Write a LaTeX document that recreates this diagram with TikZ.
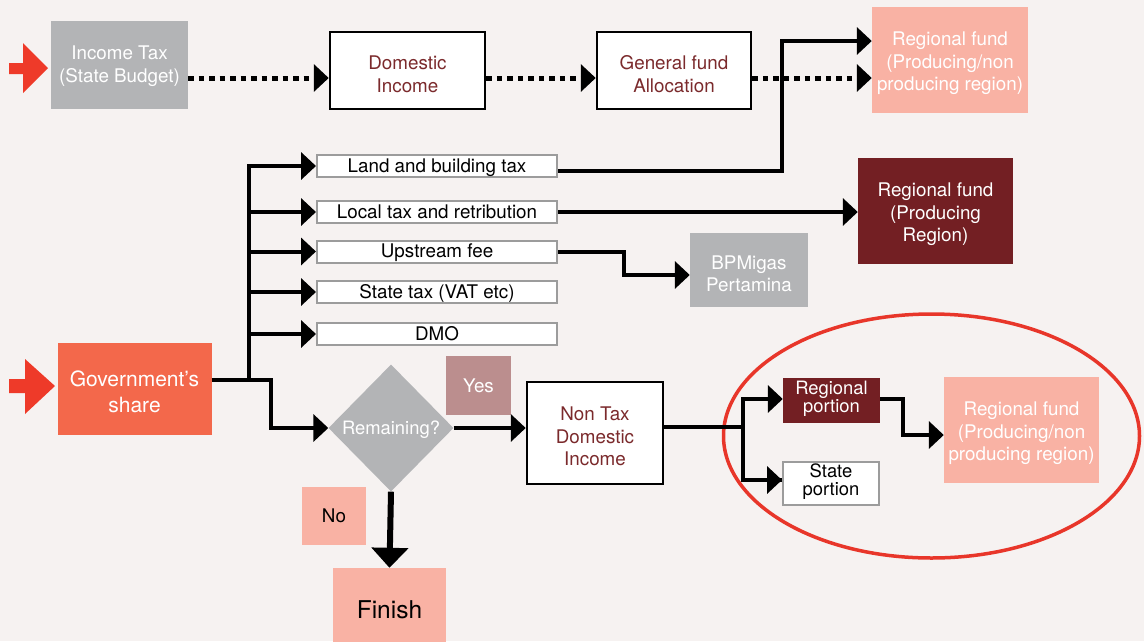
\documentclass[tikz,border=0pt]{standalone}
\usepackage{fontspec}
\setmainfont{TeX Gyre Heros}
\usetikzlibrary{arrows.meta,shapes.geometric,calc}
\definecolor{bg}{HTML}{F6F2F1}
\definecolor{gbox}{HTML}{B3B4B6}
\definecolor{salmon}{HTML}{F9B2A4}
\definecolor{orng}{HTML}{F3684B}
\definecolor{dred}{HTML}{731F23}
\definecolor{mauve}{HTML}{BB8E8E}
\definecolor{tred}{HTML}{7B2A2C}
\definecolor{rarrow}{HTML}{EE3A29}
\definecolor{gborder}{HTML}{9C9C9C}
\definecolor{ellred}{HTML}{E8362A}
\newcommand{\lowr}{\rule{0pt}{21pt}}
\begin{document}
\begin{tikzpicture}[x=1pt,y=-1pt,
  base/.style={rectangle,inner sep=0pt,align=center,font=\fontsize{18.8}{22.5}\selectfont},
  graybox/.style={base,fill=gbox,text=white},
  whitebox/.style={base,fill=white,draw=black,line width=2.5pt,text=tred},
  listbox/.style={base,fill=white,draw=gborder,line width=2pt,minimum width=240pt,minimum height=22pt,text height=14pt,text depth=2pt},
  salbox/.style={base,fill=salmon,text=white},
  redbox/.style={base,fill=dred,text=white},
  smallfont/.style={font=\fontsize{18.4}{18}\selectfont},
  conn/.style={line width=4pt,-{Triangle[length=15pt,width=27pt]}},
  plainline/.style={line width=4pt},
  dotconn/.style={line width=5pt,dash pattern=on 5.5pt off 5pt,-{Triangle[length=15pt,width=27pt]}},
]
\fill[bg] (0,0) rectangle (1144,641);
\useasboundingbox (0,0) rectangle (1144,641);

% red entry arrows
\fill[rarrow] (9,63) -- (23,63) -- (23,43) -- (48,68) -- (23,93) -- (23,74) -- (9,74) -- cycle;
\fill[rarrow] (9,379) -- (25,379) -- (25,359) -- (55,386) -- (25,414) -- (25,393) -- (9,393) -- cycle;

% top row
\node[graybox,minimum width=137pt,minimum height=88pt] (inc) at (119.5,65) {\rule{0pt}{16pt}Income Tax\\(State Budget)};
\node[whitebox,minimum width=155pt,minimum height=77pt] (dom) at (407.5,70.5) {\lowr Domestic\\Income};
\node[whitebox,minimum width=154pt,minimum height=77pt] (gfa) at (674,70.5) {\lowr General fund\\Allocation};
\node[salbox,minimum width=156pt,minimum height=106pt] (rf1) at (950,60) {\lowr Regional fund\\(Producing/non\\producing region)};

% list
\node[listbox] (lbt) at (437,166) {Land and building tax};
\node[listbox] (ltr) at (437,212) {Local tax and retribution};
\node[listbox] (upf) at (437,251.5) {Upstream fee};
\node[listbox] (stt) at (437,292) {State tax (VAT etc)};
\node[listbox] (dmo) at (437,334) {DMO};

\node[redbox,minimum width=155pt,minimum height=106pt] (rfp) at (935.5,211) {\lowr Regional fund\\(Producing\\Region)};
\node[graybox,minimum width=118pt,minimum height=74pt] (bpm) at (749,270) {\lowr BPMigas\\Pertamina};

% lower part
\node[base,fill=orng,text=white,font=\fontsize{21}{26}\selectfont,minimum width=154pt,minimum height=92pt] (gov) at (134.5,389) {\rule{0pt}{21pt}Government’s\\share};
\node[diamond,fill=gbox,text=white,inner sep=0pt,minimum width=125pt,minimum height=127pt,font=\fontsize{18.4}{22}\selectfont] (rem) at (391,428) {\rule{0pt}{16pt}Remaining?};
\node[base,fill=mauve,text=white,minimum width=65pt,minimum height=59pt] (yes) at (478.5,385.5) {Yes};
\node[base,fill=salmon,minimum width=64pt,minimum height=58pt] (no) at (334,516) {No};
\node[base,fill=salmon,font=\fontsize{24.5}{28}\selectfont,minimum width=113pt,minimum height=84pt] (fin) at (389.5,610) {Finish};
\node[whitebox,minimum width=136pt,minimum height=102pt] (ntd) at (595,433) {\lowr Non Tax\\Domestic\\Income};

\draw[ellred,line width=3.5pt] (931.5,436) ellipse [x radius=208pt, y radius=122pt];

\node[redbox,smallfont,minimum width=97pt,minimum height=45pt] (rp) at (831.5,400.5) {Regional\\portion\rule[-7pt]{0pt}{0pt}};
\node[base,smallfont,fill=white,draw=gborder,line width=2pt,minimum width=96pt,minimum height=43pt] (sp) at (831,483.5) {State\\portion\rule[-7pt]{0pt}{0pt}};
\node[salbox,minimum width=155pt,minimum height=106pt] (rf3) at (1021.5,430) {\lowr Regional fund\\(Producing/non\\producing region)};

% dotted connectors
\coordinate (yd) at (0,78);
\draw[dotconn] (inc.east |- yd) -- (dom.west |- yd);
\draw[dotconn] (dom.east |- yd) -- (gfa.west |- yd);
\draw[dotconn] (gfa.east |- yd) -- (rf1.west |- yd);

% land and building tax -> regional fund
\coordinate (v1) at (782,0);
\coordinate (t1) at ([yshift=19pt]rf1.west);
\coordinate (s1) at ([yshift=-5pt]lbt.east);
\draw[conn] (s1) -- (s1 -| v1) -- (v1 |- t1) -- (t1);

% local tax -> regional fund producing
\draw[conn] (ltr.east) -- (ltr.east -| rfp.west);

% upstream fee -> BPMigas
\coordinate (v2) at (624,0);
\coordinate (t2) at ([yshift=-5pt]bpm.west);
\draw[conn] (upf.east) -- (upf.east -| v2) -- (v2 |- t2) -- (t2);

% government's share tree
\coordinate (v3) at (249,0);
\coordinate (v4) at (271,0);
\coordinate (g1) at ([yshift=9pt]gov.east);
\draw[conn] (g1) -- (g1 -| v4) -- (v4 |- rem.west) -- (rem.west);
\draw[conn] (g1 -| v3) -- (v3 |- lbt.west) -- (lbt.west);
\foreach \n in {ltr,upf,stt,dmo} \draw[conn] (v3 |- \n.west) -- (\n.west);

% remaining
\draw[conn] (rem.east) -- (rem.east -| ntd.west);
\draw[line width=6pt,-{Triangle[length=20pt,width=36pt]}] (rem.south) -- (fin.north);

% non tax branch
\coordinate (v5) at (743,0);
\coordinate (n1) at ([yshift=6pt]ntd.east);
\coordinate (r1) at ([yshift=1.5pt]rp.west);
\coordinate (s2) at ([yshift=3.5pt]sp.west);
\draw[plainline] (n1) -- (n1 -| v5);
\draw[conn] (s2) -- (v5 |- s2) -- (v5 |- r1) -- (r1);
\draw[conn] (v5 |- s2) -- (s2);

% regional portion -> regional fund
\coordinate (v6) at (903,0);
\coordinate (t3) at ([yshift=-5pt]rf3.west);
\coordinate (r2) at ([yshift=1.5pt]rp.east);
\draw[conn] (r2) -- (r2 -| v6) -- (v6 |- t3) -- (t3);
\end{tikzpicture}
\end{document}
